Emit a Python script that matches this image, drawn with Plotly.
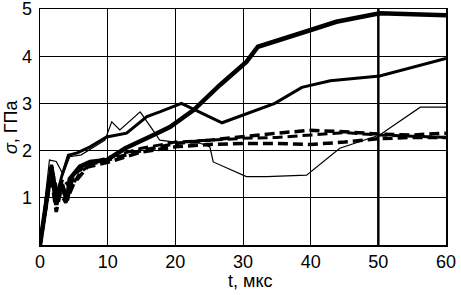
import plotly.graph_objects as go

# Series A (thickest solid)
t_a = [0, 1.7, 2.4, 3.1, 4.0, 4.4, 5.9, 7.4, 9.85, 12.6, 16.3, 19.2, 22.7, 26.6, 30.5, 32.2, 39.9, 43.8, 50.2, 55, 60]
s_a = [0, 1.65, 0.85, 1.3, 0.95, 1.4, 1.66, 1.76, 1.8, 2.05, 2.3, 2.5, 2.86, 3.39, 3.88, 4.2, 4.55, 4.73, 4.91, 4.89, 4.87]

# Series B (medium solid)
t_b = [0, 1.7, 2.5, 3.2, 4.2, 5.5, 7.4, 9.85, 12.8, 15.8, 17.7, 20.9, 26.9, 34.7, 38.7, 42.9, 50.2, 60]
s_b = [0, 1.6, 1.05, 1.45, 1.9, 1.95, 2.08, 2.29, 2.37, 2.72, 2.82, 3.0, 2.59, 3.0, 3.34, 3.48, 3.58, 3.95]

# Series C (thin solid)
t_c = [0, 1.4, 2.4, 3.4, 4.4, 6.1, 9.6, 10.6, 11.8, 14.8, 17.0, 17.7, 20, 23.6, 25.1, 25.6, 30.5, 33.5, 39.4, 44.3, 50.2, 56.2, 60]
s_c = [0, 1.8, 1.77, 1.5, 1.87, 1.91, 2.22, 2.61, 2.44, 2.82, 2.37, 2.22, 2.18, 2.16, 2.08, 1.76, 1.45, 1.45, 1.48, 2.05, 2.33, 2.92, 2.92]

# Dashed series
t_d = [0, 1.7, 2.5, 3.2, 4.0, 5.0, 7, 10, 15, 20, 25, 30, 35, 40, 45, 50, 55, 60]
s_d = [0, 1.7, 1.0, 1.35, 0.95, 1.5, 1.7, 1.8, 2.0, 2.15, 2.22, 2.3, 2.37, 2.43, 2.4, 2.35, 2.33, 2.37]

t_e = [0, 1.6, 2.4, 3.0, 3.8, 5, 7, 10, 15, 20, 25, 30, 35, 40, 45, 50, 55, 60]
s_e = [0, 1.5, 0.7, 1.1, 0.9, 1.3, 1.65, 1.75, 1.97, 2.08, 2.13, 2.15, 2.15, 2.13, 2.18, 2.25, 2.28, 2.28]

t_f = [0, 1.8, 2.6, 3.4, 4.5, 6, 8, 10, 15, 20, 25, 30, 35, 40, 45, 50, 55, 60]
s_f = [0, 1.6, 1.1, 1.4, 1.2, 1.55, 1.75, 1.85, 2.05, 2.18, 2.22, 2.26, 2.28, 2.33, 2.38, 2.33, 2.3, 2.28]

x_ticks = [0, 10, 20, 30, 40, 50, 60]
y_ticks = [1, 2, 3, 4, 5]

fig = go.Figure()
dash = "10px,5px"
for t, s, w, d in [
    (t_e, s_e, 3.5, dash),
    (t_f, s_f, 3.0, dash),
    (t_d, s_d, 3.5, dash),
    (t_c, s_c, 1.2, "solid"),
    (t_b, s_b, 3.0, "solid"),
    (t_a, s_a, 4.5, "solid"),
]:
    fig.add_trace(go.Scatter(x=t, y=s, mode="lines",
                             line=dict(color="black", width=w, dash=d),
                             showlegend=False, hoverinfo="skip"))

fig.add_shape(type="line", x0=50, x1=50, y0=0, y1=5, xref="x", yref="y",
              line=dict(color="black", width=2.5), layer="below")

font = dict(family="Liberation Sans, Arial, sans-serif", size=18, color="black")
fig.update_layout(
    width=461, height=295,
    margin=dict(l=40, r=15, t=9, b=50),
    paper_bgcolor="white", plot_bgcolor="white",
    font=font,
    xaxis=dict(range=[0, 60], tickvals=x_ticks, showgrid=True, gridcolor="black", gridwidth=1,
               showline=True, linecolor="black", linewidth=1.5, mirror=True,
               zeroline=False, ticks="", ticklabelstandoff=0, automargin=False,
               ticklabeloverflow="allow"),
    yaxis=dict(range=[0, 5], tickvals=y_ticks, showgrid=True, gridcolor="black", gridwidth=1,
               showline=True, linecolor="black", linewidth=1.5, mirror=True,
               zeroline=False, ticks="", ticklabelstandoff=3, automargin=False,
               ticklabeloverflow="allow"),
    annotations=[
        dict(text="t, мкс", xref="paper", yref="paper", x=0.517, y=0, yshift=-36,
             xanchor="center", yanchor="middle", showarrow=False, font=font),
        dict(text="<i>σ</i>, ГПа", xref="paper", yref="paper", x=0, y=0.5, xshift=-29,
             xanchor="center", yanchor="middle", textangle=-90, showarrow=False, font=font),
    ],
)

fig.write_html("out.html", config={"displayModeBar": False, "staticPlot": True},
               post_script="document.body.style.margin='0';document.body.style.overflow='hidden';")
